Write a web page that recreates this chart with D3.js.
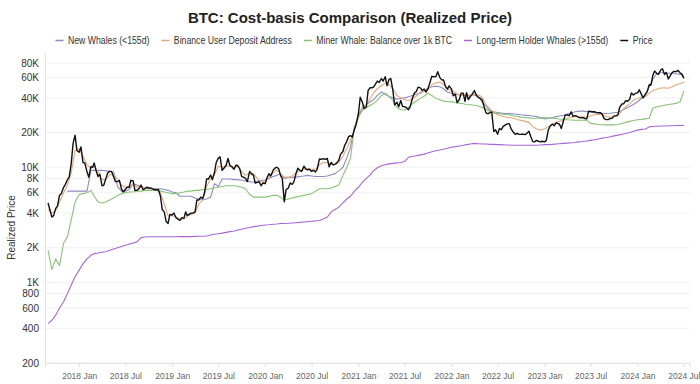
<!DOCTYPE html>
<html>
<head>
<meta charset="utf-8">
<script src="https://cdn.jsdelivr.net/npm/d3@7"></script>
<style>
  body { margin: 0; background: #fff; }
  #chart svg { display: block; font-family: "Liberation Sans", Arial, sans-serif; }
</style>
</head>
<body>
<div id="chart"></div>
<script>
// BTC cost-basis comparison, Sep 2017 - Jul 2024
// price: 1st, 8th, 16th, 23rd of each month; other series: 1st and 16th

const seriesNames = ["New Whales (<155d)", "Binance User Deposit Address", "Miner Whale: Balance over 1k BTC", "Long-term Holder Whales (>155d)", "Price"];
const seriesColors = ["#8e89c6", "#e6a878", "#86c474", "#a866d6", "#111111"];

const yTickValues = [200, 400, 600, 800, 1000, 2000, 4000, 6000, 8000, 10000, 20000, 40000, 60000, 80000];
const yTickLabels = ["200", "400", "600", "800", "1K", "2K", "4K", "6K", "8K", "10K", "20K", "40K", "60K", "80K"];
const xTickLabels = ["2018 Jan", "2018 Jul", "2019 Jan", "2019 Jul", "2020 Jan", "2020 Jul", "2021 Jan", "2021 Jul",
  "2022 Jan", "2022 Jul", "2023 Jan", "2023 Jul", "2024 Jan", "2024 Jul"];

const price = [
  // 2017 Sep-Dec
  4900, 4300, 3700, 3800, 4400, 4600, 5700, 5900, 6700, 7100, 7800, 8200, 10800, 16000, 19000, 14000,
  // 2018
  13500, 15000, 11000, 10900, 9100, 8200, 10100, 10000, 10900, 9400, 8300, 8700, 6900, 7000, 8000, 8900,
  9200, 9200, 8300, 7500, 7500, 7700, 6500, 6100, 6400, 6700, 6700, 7700, 7600, 6300, 6300, 6500,
  7000, 6400, 6500, 6700, 6600, 6600, 6500, 6400, 6350, 6400, 5600, 4300, 4100, 3400, 3250, 3900,
  // 2019
  3850, 4000, 3650, 3550, 3450, 3650, 3600, 4100, 3800, 3900, 4000, 4000, 4100, 5200, 5200, 5500,
  5350, 6000, 7900, 7900, 8550, 7800, 9000, 11000, 12000, 12300, 9400, 9800, 10400, 11900, 10300, 10100,
  9600, 10400, 10300, 9700, 8300, 8200, 8000, 7500, 9200, 8800, 8500, 7300, 7400, 7500, 6900, 7300,
  // 2020
  7200, 8100, 8800, 8400, 9400, 9800, 10000, 9700, 8500, 8000, 5000, 6400, 6600, 7300, 7100, 7500,
  8800, 9800, 9400, 9200, 10200, 9700, 9500, 9600, 9200, 9400, 9100, 9600, 11800, 11700, 11900, 11700,
  11900, 10100, 11000, 10500, 10600, 10900, 11500, 13000, 13700, 15500, 16700, 18400, 18800, 18300, 21300, 23500,
  // 2021
  29400, 40500, 36800, 32300, 33500, 46500, 49000, 48900, 49600, 52300, 56000, 54400, 58800, 56000, 61000, 51000,
  57800, 58800, 46400, 34700, 36700, 33500, 38000, 33700, 33500, 32900, 31500, 33600, 39900, 43800, 45500, 49500,
  48800, 46400, 47700, 44900, 48100, 53800, 61500, 61000, 61300, 67500, 60300, 57500, 57200, 50600, 47600, 50800,
  // 2022
  47700, 41700, 43100, 36300, 38700, 44000, 44000, 37300, 44400, 38700, 41100, 42900, 46300, 42300, 40400, 39700,
  38500, 34000, 29800, 29100, 29800, 30100, 20400, 21100, 19300, 21600, 21200, 22600, 23300, 23800, 23900, 21500,
  20100, 19300, 19700, 19300, 19300, 19400, 19200, 19600, 20500, 18500, 16700, 16600, 17100, 16800, 16600, 16800,
  // 2023
  16600, 17000, 21100, 22700, 23700, 22900, 24300, 23900, 23600, 21700, 25000, 28300, 28500, 28000, 30300, 27600,
  28000, 27700, 27000, 26800, 27000, 26500, 26300, 30700, 30500, 30300, 30300, 29900, 29700, 29800, 28700, 26400,
  25900, 25900, 26500, 26600, 27900, 27900, 28500, 33000, 35400, 35600, 37900, 37300, 38700, 44200, 42300, 43700,
  // 2024 Jan-Jul 1
  44200, 47000, 43100, 39900, 43100, 45300, 52000, 51700, 62500, 68300, 65300, 64000, 69700, 71600, 63800, 66500,
  58300, 62000, 66200, 67900, 67500, 69300, 66000, 64300, 59000
];

const newWhales = [
  null, null, null, null, null, 6200, 6200, 6200,
  6200, 6200, 6200, 9400, 9400, 9400, 9400, 9300, 9200, 9100, 6800, 6200, 6200, 6400, 7200, 7000, 6800, 6600, 6500, 6500, 6500, 6500, 6400, 6300,
  6100, 6000, 5600, 5600, 5600, 5600, 5400, 5300, 5200, 5300, 5500, 7200, 6800, 7900, 7900, 7900, 7800, 7800, 7700, 7600, 7500, 7400, 7600, 7700,
  7700, 8000, 8300, 8500, 8800, 8000, 8100, 8200, 8200, 8300, 8400, 8500, 8400, 8300, 8300, 8300, 8400, 8600, 8800, 9300, 10000, 12000, 15000, 22000,
  28000, 33000, 35000, 37000, 38500, 42000, 45000, 43000, 41000, 40000, 39000, 39500, 40000, 40900, 42000, 43000, 43800, 46000, 48700, 50000, 50400, 50000, 48000, 45000,
  43800, 43000, 42500, 42300, 42300, 42300, 42300, 41000, 37000, 34000, 31000, 30300, 29800, 29500, 29300, 29200, 29000, 28800, 28500, 28300, 28100, 27800, 27500, 27000,
  26200, 26500, 27000, 27500, 27800, 28300, 28900, 29500, 30300, 30700, 30700, 30400, 30000, 29800, 29500, 29400, 29300, 29400, 29700, 30000, 31000, 32500, 33600, 35000,
  37000, 39500, 42300, 50000, 58000, 64800, 66000, 66000, 65500, 65000, 64800, 64000, 62000
];

const binance = [
  4300, 4000, 4200, 5000, 6000, 7000, 9000, 14000,
  14500, 12500, 10500, 9800, 10200, 9200, 7800, 7800, 8600, 8600, 7900, 7000, 6700, 6700, 7200, 6700, 6800, 6600, 6600, 6500, 6400, 6000, 4800, 3800,
  3800, 3700, 3550, 3550, 3750, 3900, 4000, 4800, 5200, 6800, 7900, 8600, 10200, 10000, 10200, 10300, 10000, 10100, 9200, 8500, 8800, 8800, 8000, 7500,
  7400, 8200, 8900, 9500, 8800, 8200, 8200, 8400, 9000, 9300, 9600, 9700, 9600, 9600, 10500, 11000, 11000, 10600, 10500, 11000, 12500, 14500, 17200, 21000,
  27000, 32000, 35000, 39500, 44000, 48000, 51000, 54000, 52000, 48000, 42000, 40000, 38500, 38000, 39000, 41500, 45000, 46000, 47000, 52000, 54000, 55000, 52000, 48000,
  46000, 44500, 42000, 42000, 42000, 41500, 43000, 42500, 40500, 35000, 32000, 30000, 28500, 27800, 27300, 27000, 26600, 26000, 25500, 25000, 24500, 22500, 21500, 21000,
  21500, 22500, 23500, 24500, 25000, 25500, 26600, 27200, 27400, 27400, 27300, 27200, 27800, 28500, 28800, 28500, 27500, 27300, 27400, 28000, 31000, 33600, 35500, 38200,
  39500, 40500, 41000, 44000, 46000, 47500, 48700, 49000, 48500, 50000, 52000, 53000, 55000
];

const minerWhales = [
  1900, 1300, 1600, 1400, 2200, 2500, 3500, 5000,
  5800, 5900, 6000, 6300, 5600, 5000, 4900, 5000, 5200, 5400, 5700, 5900, 6000, 6100, 6100, 6200, 6200, 6300, 6300, 6300, 6300, 6200, 6100, 6000,
  5900, 5900, 6000, 6100, 6200, 6200, 6300, 6300, 6400, 6400, 6500, 6600, 6700, 6800, 6900, 6900, 6900, 6800, 6700, 6500, 5800, 5500, 5500, 5500,
  5500, 5600, 5700, 5700, 5500, 5200, 5300, 5400, 5500, 5600, 5700, 5800, 5900, 6200, 6500, 6500, 6500, 6600, 6800, 7000, 8500, 10000, 12000, 22500,
  27500, 31000, 33000, 34500, 35700, 38000, 42000, 44000, 41000, 38000, 33000, 31500, 31400, 33000, 35700, 37500, 39600, 41500, 43800, 42000, 39600, 38500, 37500, 37000,
  37100, 36500, 36000, 35500, 35000, 34800, 34500, 34000, 33000, 32000, 30500, 29500, 29300, 29000, 28700, 28500, 28000, 27600, 27200, 27000, 26800, 26600, 26600, 26700,
  27000, 26900, 26700, 26500, 26200, 26000, 25800, 25700, 25600, 25600, 25600, 25600, 24000, 23800, 23500, 23400, 23300, 23300, 23300, 23500, 24000, 24500, 25000, 25400,
  25800, 26000, 26300, 26600, 32500, 33500, 34000, 34500, 35000, 35400, 35800, 37000, 46000
];

const lthWhales = [
  440, 470, 520, 600, 680, 800, 950, 1120,
  1280, 1450, 1600, 1720, 1780, 1800, 1830, 1850, 1900, 1950, 2000, 2050, 2100, 2150, 2200, 2250, 2450, 2480, 2490, 2490, 2490, 2490, 2490, 2490,
  2490, 2490, 2500, 2500, 2500, 2500, 2510, 2520, 2520, 2530, 2580, 2620, 2650, 2680, 2720, 2760, 2800, 2850, 2900, 2950, 3000, 3050, 3080, 3120,
  3150, 3170, 3200, 3220, 3250, 3250, 3260, 3280, 3300, 3320, 3350, 3370, 3400, 3420, 3450, 3550, 3700, 4100, 4300, 4500, 4900, 5300, 5600, 6200,
  6700, 7400, 8000, 8600, 9300, 9900, 10300, 10500, 10700, 10800, 10900, 11000, 11200, 12200, 12400, 12600, 12800, 13000, 13300, 13600, 13900, 14100, 14300, 14600,
  14900, 15100, 15300, 15500, 15700, 15900, 16100, 16000, 15900, 15900, 15800, 15800, 15700, 15700, 15600, 15600, 15500, 15500, 15500, 15500, 15500, 15500, 15500, 15600,
  15700, 15700, 15800, 15900, 16000, 16100, 16200, 16300, 16400, 16600, 16700, 16900, 17100, 17300, 17600, 17900, 18100, 18400, 18700, 19000, 19300, 19600, 20000, 20500,
  21000, 21300, 21500, 22400, 22600, 22700, 22800, 22800, 22900, 22900, 23000, 23000, 23100
];

// sample dates
const months = d3.timeMonth.range(new Date(2017, 8, 1), new Date(2024, 6, 2));
const dates = months.flatMap(m => [m, d3.timeDay.offset(m, 15)]).slice(0, newWhales.length);
const priceDates = months.flatMap(m => [0, 7, 15, 22].map(k => d3.timeDay.offset(m, k))).slice(0, price.length);

const width = 700, height = 384;
const plot = { left: 45, right: 690, top: 52, bottom: 363 };

const svg = d3.select("#chart").append("svg")
  .attr("width", width)
  .attr("height", height);

const x = d3.scaleTime()
  .domain([new Date(2017, 7, 20), new Date(2024, 6, 25)])
  .range([plot.left, plot.right]);

const y = d3.scaleLog()
  .domain([200, 100000])
  .range([plot.bottom, plot.top]);

// title
svg.append("text")
  .attr("x", width / 2)
  .attr("y", 23)
  .attr("text-anchor", "middle")
  .style("font-size", "15px")
  .style("font-weight", "bold")
  .style("fill", "#222")
  .text("BTC: Cost-basis Comparison (Realized Price)");

// horizontal grid
svg.append("g")
  .selectAll("line")
  .data(yTickValues)
  .join("line")
  .attr("x1", plot.left)
  .attr("x2", plot.right)
  .attr("y1", d => y(d))
  .attr("y2", d => y(d))
  .attr("stroke", "#f1f1f1");

// y axis
const yAxis = svg.append("g")
  .attr("transform", `translate(${plot.left},0)`)
  .call(d3.axisLeft(y).tickValues(yTickValues).tickFormat((d, i) => yTickLabels[i]).tickSize(0).tickPadding(6));
yAxis.select(".domain").attr("stroke", "#e2e2e2");
yAxis.selectAll("text").style("font-size", "10px").style("fill", "#333").style("font-family", "inherit");

svg.append("text")
  .attr("transform", `translate(15,${(plot.top + plot.bottom) / 2 + 20}) rotate(-90)`)
  .attr("text-anchor", "middle")
  .style("font-size", "10px")
  .style("fill", "#333")
  .text("Realized Price");

// x axis
const xTicks = d3.timeMonth.every(6).range(new Date(2018, 0, 1), new Date(2024, 6, 2));
const xAxis = svg.append("g")
  .attr("transform", `translate(0,${plot.bottom})`)
  .call(d3.axisBottom(x).tickValues(xTicks).tickFormat((d, i) => xTickLabels[i]).tickSize(4).tickPadding(6));
xAxis.select(".domain").attr("stroke", "#e2e2e2");
xAxis.selectAll(".tick line").attr("stroke", "#ddd");
xAxis.selectAll("text").style("font-size", "8.5px").style("fill", "#666").style("font-family", "inherit");

// lines
const allSeries = [
  { values: newWhales, dates: dates },
  { values: binance, dates: dates },
  { values: minerWhales, dates: dates },
  { values: lthWhales, dates: dates },
  { values: price, dates: priceDates }
];
const line = d3.line()
  .defined(d => d[1] != null)
  .x(d => x(d[0]))
  .y(d => y(d[1]));

svg.append("g")
  .attr("fill", "none")
  .selectAll("path")
  .data(allSeries)
  .join("path")
  .attr("stroke", (d, i) => seriesColors[i])
  .attr("stroke-width", (d, i) => i === 4 ? 1.4 : 1.1)
  .attr("stroke-linejoin", "round")
  .attr("d", s => line(s.dates.map((dt, j) => [dt, s.values[j]])));

// legend (text squeezed horizontally to match the narrow legend font)
const squeeze = 0.83;
const legend = svg.append("g").attr("transform", "translate(0,44)");
const items = legend.selectAll("g")
  .data(seriesNames)
  .join("g");
items.append("line")
  .attr("x1", 0).attr("x2", 8)
  .attr("y1", -3.5).attr("y2", -3.5)
  .attr("stroke", (d, i) => seriesColors[i])
  .attr("stroke-width", 1.5);
items.append("text")
  .attr("transform", `translate(12.5,0) scale(${squeeze},1)`)
  .style("font-size", "10.5px")
  .style("fill", "#333")
  .text(d => d);

const gap = 12;
const widths = [];
items.each(function () {
  widths.push(12.5 + squeeze * this.querySelector("text").getComputedTextLength());
});
const total = d3.sum(widths) + gap * (widths.length - 1);
let cursor = 354 - total / 2;
items.attr("transform", (d, i) => {
  const t = `translate(${cursor},0)`;
  cursor += widths[i] + gap;
  return t;
});
</script>
</body>
</html>
